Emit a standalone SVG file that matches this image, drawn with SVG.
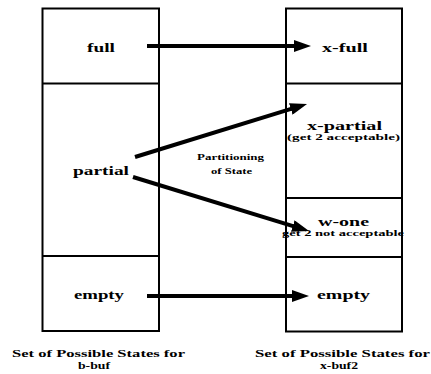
<svg xmlns="http://www.w3.org/2000/svg" width="431" height="374" viewBox="0 0 431 374">
<style>
.box{fill:#fff;stroke:#000;stroke-width:2}
.div{stroke:#000;stroke-width:2;fill:none}
.t{font-family:"Liberation Serif","Times New Roman",serif;font-weight:bold;fill:#000}
.lg{font-size:13.5px}
.md{font-size:9px}
.sm{font-size:8px}
.cap{font-size:11px}
.arr{stroke:#000;stroke-width:4;fill:none;marker-end:url(#ah)}
</style>
<defs>
<marker id="ah" markerUnits="userSpaceOnUse" viewBox="0 0 17 12" markerWidth="17" markerHeight="12" refX="2" refY="6" orient="auto">
<path d="M0,0 L17,6 L0,12 z" fill="#000"/>
</marker>
</defs>
<rect width="431" height="374" fill="#fff"/>
<g id="left-set">
<rect class="box" x="42.5" y="8.5" width="116.5" height="322.5"/>
<g id="full"><line class="div" x1="42.5" y1="83.5" x2="159" y2="83.5"/><text class="t lg" x="87" y="52" textLength="28" lengthAdjust="spacingAndGlyphs">full</text></g>
<g id="partial"><line class="div" x1="42.5" y1="256" x2="159" y2="256"/><text class="t lg" x="73" y="175" textLength="56" lengthAdjust="spacingAndGlyphs">partial</text></g>
<g id="empty"><text class="t lg" x="74" y="299" textLength="50" lengthAdjust="spacingAndGlyphs">empty</text></g>
<text class="t cap" x="12" y="357" textLength="173" lengthAdjust="spacingAndGlyphs">Set of Possible States for</text>
<text class="t cap" x="78" y="369" textLength="32" lengthAdjust="spacingAndGlyphs">b-buf</text>
</g>
<g id="right-set">
<rect class="box" x="286" y="8.5" width="116" height="323"/>
<g id="x-full"><line class="div" x1="286" y1="83.5" x2="402" y2="83.5"/><text class="t lg" x="322" y="52" textLength="46" lengthAdjust="spacingAndGlyphs">x-full</text></g>
<g id="x-partial"><line class="div" x1="286" y1="198" x2="402" y2="198"/><text class="t lg" x="307" y="129.5" textLength="75" lengthAdjust="spacingAndGlyphs">x-partial</text><text class="t md" x="287" y="140" textLength="113" lengthAdjust="spacingAndGlyphs">(get 2 acceptable)</text></g>
<g id="w-one"><line class="div" x1="286" y1="257" x2="402" y2="257"/><text class="t lg" x="318" y="226" textLength="51" lengthAdjust="spacingAndGlyphs">w-one</text><text class="t sm" x="282" y="236" textLength="122" lengthAdjust="spacingAndGlyphs">get 2 not acceptable</text></g>
<g id="x-empty"><text class="t lg" x="317" y="299" textLength="53" lengthAdjust="spacingAndGlyphs">empty</text></g>
<text class="t cap" x="255" y="357" textLength="175" lengthAdjust="spacingAndGlyphs">Set of Possible States for</text>
<text class="t cap" x="320" y="369" textLength="38" lengthAdjust="spacingAndGlyphs">x-buf2</text>
</g>
<g id="connectors">
<line class="arr" x1="147" y1="46" x2="296" y2="46"/>
<line class="arr" x1="135" y1="157" x2="292.7" y2="108.4"/>
<line class="arr" x1="133" y1="177" x2="294.7" y2="226.6"/>
<line class="arr" x1="147" y1="296" x2="294" y2="296"/>
<text class="t sm" x="197" y="160" textLength="67" lengthAdjust="spacingAndGlyphs">Partitioning</text>
<text class="t sm" x="211" y="174" textLength="41" lengthAdjust="spacingAndGlyphs">of State</text>
</g>
</svg>
